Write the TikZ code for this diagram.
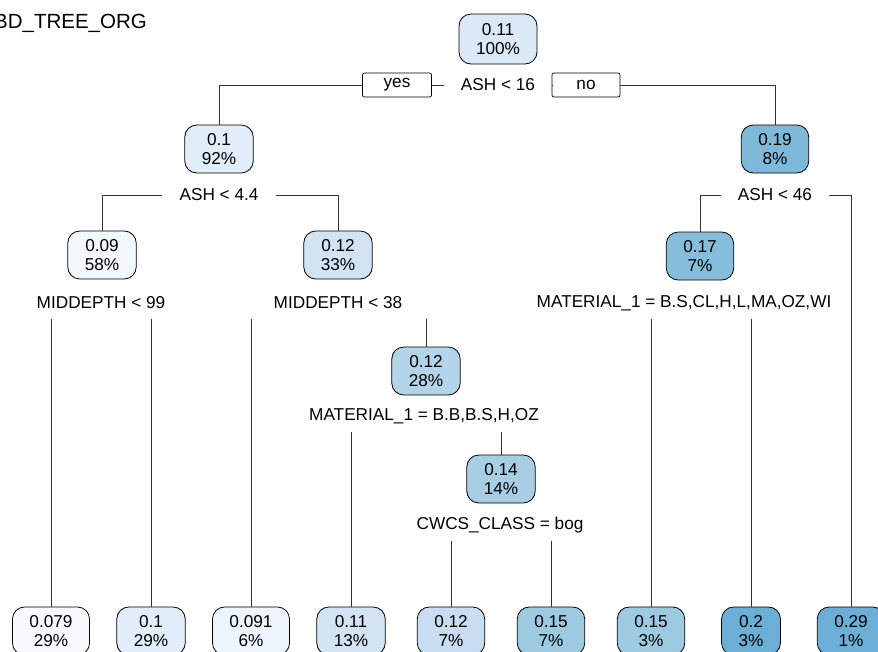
\documentclass[tikz,border=0pt]{standalone}
\usepackage{fontspec}
\setmainfont{Liberation Sans}
\definecolor{cA}{HTML}{F7FBFF}
\definecolor{cB}{HTML}{F3F8FD}
\definecolor{cC}{HTML}{EDF4FB}
\definecolor{cD}{HTML}{E1EDF8}
\definecolor{cE}{HTML}{DBE9F6}
\definecolor{cF}{HTML}{D2E3F3}
\definecolor{cG}{HTML}{C8DDF0}
\definecolor{cH}{HTML}{B4D4E9}
\definecolor{cI}{HTML}{A8CEE5}
\definecolor{cJ}{HTML}{9DCAE1}
\definecolor{cK}{HTML}{86BDDC}
\definecolor{cL}{HTML}{7FB9DA}
\definecolor{cM}{HTML}{6BAED6}
\definecolor{linec}{HTML}{333333}
\tikzset{
  treebox/.style={draw=black, line width=0.8pt, rounded corners=12pt, align=center,
    inner xsep=17pt, inner ysep=0pt, minimum height=48pt,
    font=\fontsize{17.2}{18.5}\selectfont},
  splitlab/.style={inner xsep=17pt, inner ysep=0pt, minimum height=32pt,
    font=\fontsize{17.2}{18.5}\selectfont},
  yesno/.style={draw=black, line width=0.7pt, fill=white, rounded corners=2pt,
    minimum height=24pt, inner sep=0pt, font=\fontsize{17.2}{18.5}\selectfont},
  conn/.style={draw=linec, line width=0.8pt},
}
\begin{document}
\begin{tikzpicture}[x=1pt,y=-1pt]
\useasboundingbox (0,0) rectangle (878,651);
% title
\node[anchor=base east, inner sep=0pt, font=\fontsize{20.5}{24}\selectfont] (title) at (147,28) {BD\_TREE\_ORG};
% inner nodes
\node[treebox, fill=cE, minimum height=50pt] (n0) at (498,39) {0.11\\100\%};
\node[treebox, fill=cD] (n1) at (219,149) {0.1\\92\%};
\node[treebox, fill=cL] (n2) at (775,149) {0.19\\8\%};
\node[treebox, fill=cB] (n3) at (102,255) {0.09\\58\%};
\node[treebox, fill=cF] (n4) at (338,255) {0.12\\33\%};
\node[treebox, fill=cK] (n5) at (700,256) {0.17\\7\%};
\node[treebox, fill=cH] (n6) at (426,371) {0.12\\28\%};
\node[treebox, fill=cI] (n7) at (501,479) {0.14\\14\%};
% leaves
\node[treebox, fill=cA] (l1) at (51,631) {0.079\\29\%};
\node[treebox, fill=cD] (l2) at (151,631) {0.1\\29\%};
\node[treebox, fill=cC] (l3) at (251,631) {0.091\\6\%};
\node[treebox, fill=cF] (l4) at (351,631) {0.11\\13\%};
\node[treebox, fill=cG] (l5) at (451,631) {0.12\\7\%};
\node[treebox, fill=cJ] (l6) at (551,631) {0.15\\7\%};
\node[treebox, fill=cJ] (l7) at (651,631) {0.15\\3\%};
\node[treebox, fill=cM] (l8) at (751,631) {0.2\\3\%};
\node[treebox, fill=cM] (l9) at (851,631) {0.29\\1\%};
% split labels
\node[splitlab] (s0) at (498,85) {ASH < 16};
\node[splitlab] (s1) at (219,195) {ASH < 4.4};
\node[splitlab] (s2) at (775,195) {ASH < 46};
\node[splitlab] (s3) at (101,303) {MIDDEPTH < 99};
\node[splitlab] (s4) at (338,303) {MIDDEPTH < 38};
\node[splitlab] (s5) at (684,303) {MATERIAL\_1 = B.S,CL,H,L,MA,OZ,WI};
\node[splitlab] (s6) at (424,416) {MATERIAL\_1 = B.B,B.S,H,OZ};
\node[splitlab] (s7) at (500,525) {CWCS\_CLASS = bog};
% yes / no
\node[yesno, minimum width=69pt] (yes) at (397,85) {yes};
\node[yesno, minimum width=68pt] (no) at (586,85) {no};
% connectors
\draw[conn] (s0.west) -- (yes.east);
\draw[conn] (yes.west) -| (n1.north);
\draw[conn] (s0.east) -- (no.west);
\draw[conn] (no.east) -| (n2.north);
\draw[conn] (s1.west) -| (n3.north);
\draw[conn] (s1.east) -| (n4.north);
\draw[conn] (s2.west) -| (n5.north);
\draw[conn] (s2.east) -| (l9.north);
\draw[conn] (l1.north) -- (l1.north |- s3.south);
\draw[conn] (l2.north) -- (l2.north |- s3.south);
\draw[conn] (l3.north) -- (l3.north |- s4.south);
\draw[conn] (n6.north) -- (n6.north |- s4.south);
\draw[conn] (l7.north) -- (l7.north |- s5.south);
\draw[conn] (l8.north) -- (l8.north |- s5.south);
\draw[conn] (l4.north) -- (l4.north |- s6.south);
\draw[conn] (n7.north) -- (n7.north |- s6.south);
\draw[conn] (l5.north) -- (l5.north |- s7.south);
\draw[conn] (l6.north) -- (l6.north |- s7.south);
\end{tikzpicture}
\end{document}
